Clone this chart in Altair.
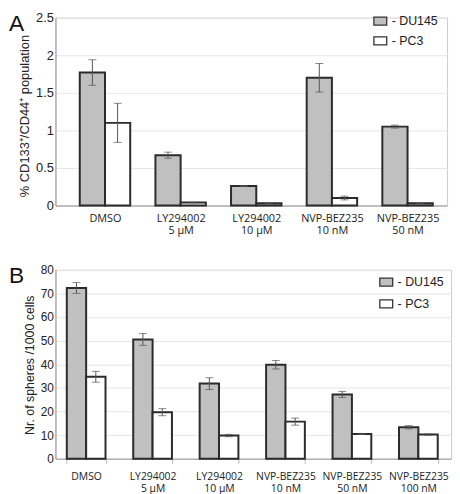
import altair as alt
import pandas as pd

series = ["DU145", "PC3"]

# Panel A
cats_a = ["DMSO", "LY294002|5 µM", "LY294002|10 µM", "NVP-BEZ235|10 nM", "NVP-BEZ235|50 nM"]
du_a = [1.77, 0.67, 0.26, 1.70, 1.05]
du_a_err = [0.17, 0.04, 0.005, 0.19, 0.02]
pc_a = [1.10, 0.04, 0.03, 0.10, 0.03]
pc_a_err = [0.26, 0.005, 0.005, 0.025, 0.004]

# Panel B
cats_b = ["DMSO", "LY294002|5 µM", "LY294002|10 µM", "NVP-BEZ235|10 nM", "NVP-BEZ235|50 nM", "NVP-BEZ235|100 nM"]
du_b = [72.3, 50.5, 31.8, 39.8, 27.2, 13.3]
du_b_err = [2.3, 2.5, 2.5, 1.8, 1.3, 0.7]
pc_b = [34.7, 19.7, 9.8, 15.7, 10.5, 10.2]
pc_b_err = [2.3, 1.5, 0.5, 1.5, 0.2, 0.3]

FONT = "Liberation Sans"
NARROW = "Liberation Sans Narrow, Liberation Sans"
XFONT = "Open Sans"


def make_df(cats, du, du_err, pc, pc_err):
    rows = []
    for c, v, e in zip(cats, du, du_err):
        rows.append({"cat": c, "series": "DU145", "value": v, "lo": v - e, "hi": v + e})
    for c, v, e in zip(cats, pc, pc_err):
        rows.append({"cat": c, "series": "PC3", "value": v, "lo": v - e, "hi": v + e})
    return pd.DataFrame(rows)


def panel(df, cats, letter, ymax, yvals, ytitle, title_fs, title_y, width, height, pin, pout, align,
          tick_fs, xlab_fs, show_ticks, xlab_pad, legx, legy, rowpad, letter_x):
    xscale = alt.Scale(paddingInner=pin, paddingOuter=pout, align=align)
    xaxis = alt.Axis(labelAngle=0, labelExpr="split(datum.label, '|')",
                     labelFont=XFONT, labelFontSize=xlab_fs, labelColor="#222",
                     labelLineHeight=12.5, labelOverlap=False,
                     domainColor="#999", domainWidth=1,
                     ticks=show_ticks, tickBand="extent", tickSize=5, tickColor="#bbb",
                     labelPadding=xlab_pad, grid=False)
    yscale = alt.Scale(domain=[0, ymax], nice=False, zero=True)
    yaxis = alt.Axis(values=yvals, format="~r", labelFont=NARROW, labelFontSize=tick_fs,
                     labelColor="#222", labelPadding=2, ticks=False, labelOverlap=False,
                     domainColor="#999", gridColor="#e6e6e6",
                     titleFont=FONT, titleFontSize=title_fs, titleFontWeight="normal",
                     titleColor="#222", titlePadding=4, titleY=title_y)

    def X():
        return alt.X("cat:N", sort=cats, scale=xscale, title=None, axis=xaxis)

    def XO():
        return alt.XOffset("series:N", sort=series, scale=alt.Scale(paddingInner=0, paddingOuter=0))

    def Y(f):
        return alt.Y(f, scale=yscale, title=ytitle, axis=yaxis)

    color = alt.Color("series:N", sort=series,
                      scale=alt.Scale(domain=series, range=["#c0c0c0", "#ffffff"]),
                      legend=alt.Legend(title=None, orient="none", legendX=legx, legendY=legy,
                                        symbolType="M-1,-0.62H1V0.62H-1Z", symbolSize=169,
                                        symbolStrokeColor="#333", symbolStrokeWidth=1.3,
                                        symbolOpacity=1,
                                        labelExpr="'- ' + datum.label",
                                        labelFont=FONT, labelFontSize=12.5, labelColor="#222",
                                        labelOffset=4, rowPadding=rowpad))
    bars = alt.Chart(df).mark_bar(stroke="#2b2b2b", strokeWidth=2).encode(
        x=X(), xOffset=XO(), y=Y("value:Q"), color=color)
    rules = alt.Chart(df).mark_rule(color="#555", strokeWidth=1).encode(
        x=X(), xOffset=XO(), y=Y("lo:Q"), y2="hi:Q")
    cap_lo = alt.Chart(df).mark_tick(color="#555", size=8, thickness=1).encode(
        x=X(), xOffset=XO(), y=Y("lo:Q"))
    cap_hi = alt.Chart(df).mark_tick(color="#555", size=8, thickness=1).encode(
        x=X(), xOffset=XO(), y=Y("hi:Q"))
    let = alt.Chart(pd.DataFrame({"t": [letter]})).mark_text(
        font=FONT, fontSize=23, align="left", baseline="top", color="#111").encode(
        text="t:N", x=alt.value(letter_x), y=alt.value(-5))
    return alt.layer(bars, rules, cap_lo, cap_hi, let).properties(width=width, height=height)


df_a = make_df(cats_a, du_a, du_a_err, pc_a, pc_a_err)
df_b = make_df(cats_b, du_b, du_b_err, pc_b, pc_b_err)

chart_a = panel(df_a, cats_a, "A", 2.5, [0, 0.5, 1, 1.5, 2, 2.5],
                "% CD133⁺/CD44⁺ population", 13, 99, 396, 190, 0.333, 0.255, 0.63,
                13, 11, False, 7, 321, -4, 5, -47)
chart_b = panel(df_b, cats_b, "B", 80, [0, 10, 20, 30, 40, 50, 60, 70, 80],
                "Nr. of spheres /1000 cells", 12.5, 96, 400, 191, 0.417, 0.185, 0.46,
                12, 10.5, True, 8, 327, 5, 7, -47)

chart = alt.vconcat(chart_a, chart_b, spacing=27).resolve_scale(
    color="independent", x="independent", y="independent", xOffset="independent"
).resolve_legend(color="independent").configure_view(
    stroke="#cccccc"
).properties(padding={"left": 0, "top": 0, "right": 0, "bottom": 0}, background="white")

chart.save("out.html", embed_options={"renderer": "svg", "actions": False})
